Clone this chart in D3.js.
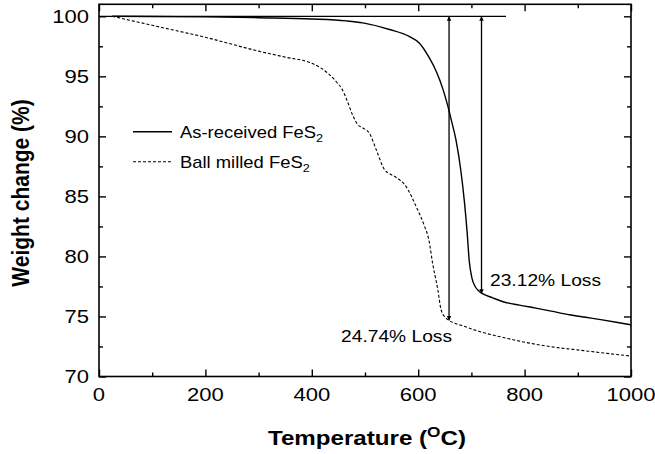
<!DOCTYPE html>
<html><head><meta charset="utf-8">
<script src="https://cdn.jsdelivr.net/npm/d3@7"></script>
<style>
body{margin:0;background:#fff;}
svg{display:block;}
text{font-family:"Liberation Sans",Arial,sans-serif;fill:#000;}
</style></head>
<body>
<svg id="c" width="655" height="454"></svg>
<script>
// ---- data ----
const asReceivedT = [25,100,200,300,400,465,496,546,583,602,621,634,646,655,662,671,680,687,692,696,701,707,712,721,740,758,790,821,850,884,915,946,975,1000];
const asReceivedW = [100,99.98,99.95,99.88,99.78,99.62,99.45,98.9,98.33,97.78,96.53,95.4,94.0,92.64,91.4,89.7,87.2,84.5,82.0,79.6,78.2,77.5,77.2,76.9,76.55,76.25,75.95,75.7,75.45,75.14,74.93,74.72,74.5,74.3];
const ballMilledT = [25,100,200,300,350,396,415,433,446,458,467,477,486,496,508,521,537,548,558,577,596,612,620,627,637,643,652,658,685,715,760,809,855,902,950,1000];
const ballMilledW = [100,99.25,98.25,97.1,96.6,96.15,95.75,95.15,94.55,93.85,92.9,91.75,91.0,90.7,90.28,88.9,87.2,86.85,86.6,85.83,84.17,82.5,81.4,79.45,77.2,75.56,74.87,74.67,74.2,73.75,73.25,72.78,72.45,72.2,71.95,71.7];
const refLineT = [0,765];
const refLineW = [100,100];
const arrowT = [658,719];
const arrowLowW = [74.67,76.9];
const arrowHighW = [100,100];
const lossLabels = ["24.74% Loss","23.12% Loss"];
const lossLabelT = [455,735];
const lossLabelW = [72.9,77.5];
const xTicks = [0,200,400,600,800,1000];
const xMinor = [100,300,500,700,900];
const yTicks = [70,75,80,85,90,95,100];
const yMinor = [72.5,77.5,82.5,87.5,92.5,97.5];
const seriesNames = ["As-received FeS","Ball milled FeS"];

// ---- layout ----
const L=99,R=631,T=4.3,B=376.5;
const SX=1.16;
const svg=d3.select("#c");
const x=d3.scaleLinear().domain([0,1000]).range([L,R]);
const y=d3.scaleLinear().domain([70,101]).range([B,T]);

// axes ticks (inward)
function ax(gen,tr,vals,size){
  const g=svg.append("g").attr("transform",tr).call(gen.tickValues(vals).tickSize(-size).tickSizeOuter(0).tickFormat(""));
  g.select(".domain").remove();
  g.selectAll("line").attr("stroke","#000").attr("stroke-width",1.4);
}
ax(d3.axisBottom(x),`translate(0,${B})`,xTicks,7);
ax(d3.axisBottom(x),`translate(0,${B})`,xMinor,4);
ax(d3.axisTop(x),`translate(0,${T})`,xTicks,7);
ax(d3.axisTop(x),`translate(0,${T})`,xMinor,4);
ax(d3.axisLeft(y),`translate(${L},0)`,yTicks,7);
ax(d3.axisLeft(y),`translate(${L},0)`,yMinor,4);
ax(d3.axisRight(y),`translate(${R},0)`,yTicks,7);
ax(d3.axisRight(y),`translate(${R},0)`,yMinor,4);
svg.append("rect").attr("x",L).attr("y",T).attr("width",R-L).attr("height",B-T)
  .attr("fill","none").attr("stroke","#000").attr("stroke-width",1.6);

// tick labels
xTicks.forEach(v=>{
  svg.append("text").attr("transform",`translate(${x(v)},401) scale(${SX},1)`)
    .attr("text-anchor","middle").attr("font-size",19).text(v);
});
yTicks.forEach(v=>{
  svg.append("text").attr("transform",`translate(89,${y(v)+6.8}) scale(${SX},1)`)
    .attr("text-anchor","end").attr("font-size",19).text(v);
});

// axis titles
const xt=svg.append("text").attr("transform",`translate(367,445) scale(1.15,1)`)
  .attr("text-anchor","middle").attr("font-size",21).attr("font-weight","bold");
xt.append("tspan").text("Temperature (");
xt.append("tspan").attr("font-size",15).attr("dy",-8).text("O");
xt.append("tspan").attr("dy",8).text("C)");
svg.append("text").attr("transform",`translate(28.5,193) rotate(-90) scale(1,1.15)`)
  .attr("text-anchor","middle").attr("font-size",21).attr("font-weight","bold").text("Weight change (%)");

// curves
const line=d3.line().x(d=>x(d[0])).y(d=>y(d[1])).curve(d3.curveMonotoneX);
svg.append("path").datum(refLineT.map((t,i)=>[t,refLineW[i]])).attr("d",d3.line().x(d=>x(d[0])).y(d=>y(d[1])))
  .attr("fill","none").attr("stroke","#000").attr("stroke-width",1.3);
svg.append("path").datum(asReceivedT.map((t,i)=>[t,asReceivedW[i]])).attr("d",line)
  .attr("fill","none").attr("stroke","#000").attr("stroke-width",1.4);
svg.append("path").datum(ballMilledT.map((t,i)=>[t,ballMilledW[i]])).attr("d",line)
  .attr("fill","none").attr("stroke","#000").attr("stroke-width",1.1).attr("stroke-dasharray","3,2");

// arrows
const defs=svg.append("defs");
defs.append("marker").attr("id","ah").attr("viewBox","0 0 10 10").attr("refX",10).attr("refY",5)
  .attr("markerWidth",4.5).attr("markerHeight",8).attr("markerUnits","userSpaceOnUse").attr("orient","auto-start-reverse")
  .append("path").attr("d","M0,0L10,5L0,10Z").attr("fill","#000");
arrowT.forEach((t,i)=>{
  svg.append("line").attr("x1",x(t)).attr("x2",x(t)).attr("y1",y(arrowLowW[i])).attr("y2",y(arrowHighW[i]))
    .attr("stroke","#000").attr("stroke-width",1.3)
    .attr("marker-start","url(#ah)").attr("marker-end","url(#ah)");
});
lossLabels.forEach((s,i)=>{
  svg.append("text").attr("transform",`translate(${x(lossLabelT[i])},${y(lossLabelW[i])}) scale(1.13,1)`)
    .attr("font-size",17).text(s);
});

// legend
const legY=[131.7,161.7];
seriesNames.forEach((n,i)=>{
  const l=svg.append("line").attr("x1",133).attr("x2",172).attr("y1",legY[i]).attr("y2",legY[i])
    .attr("stroke","#000").attr("stroke-width",i?1.1:1.4);
  if(i) l.attr("stroke-dasharray","3,2");
  const t=svg.append("text").attr("transform",`translate(180,${legY[i]+6.5}) scale(1.15,1)`).attr("font-size",16);
  t.append("tspan").text(n);
  t.append("tspan").attr("font-size",11).attr("dy",4).text("2");
});
</script>
</body></html>
